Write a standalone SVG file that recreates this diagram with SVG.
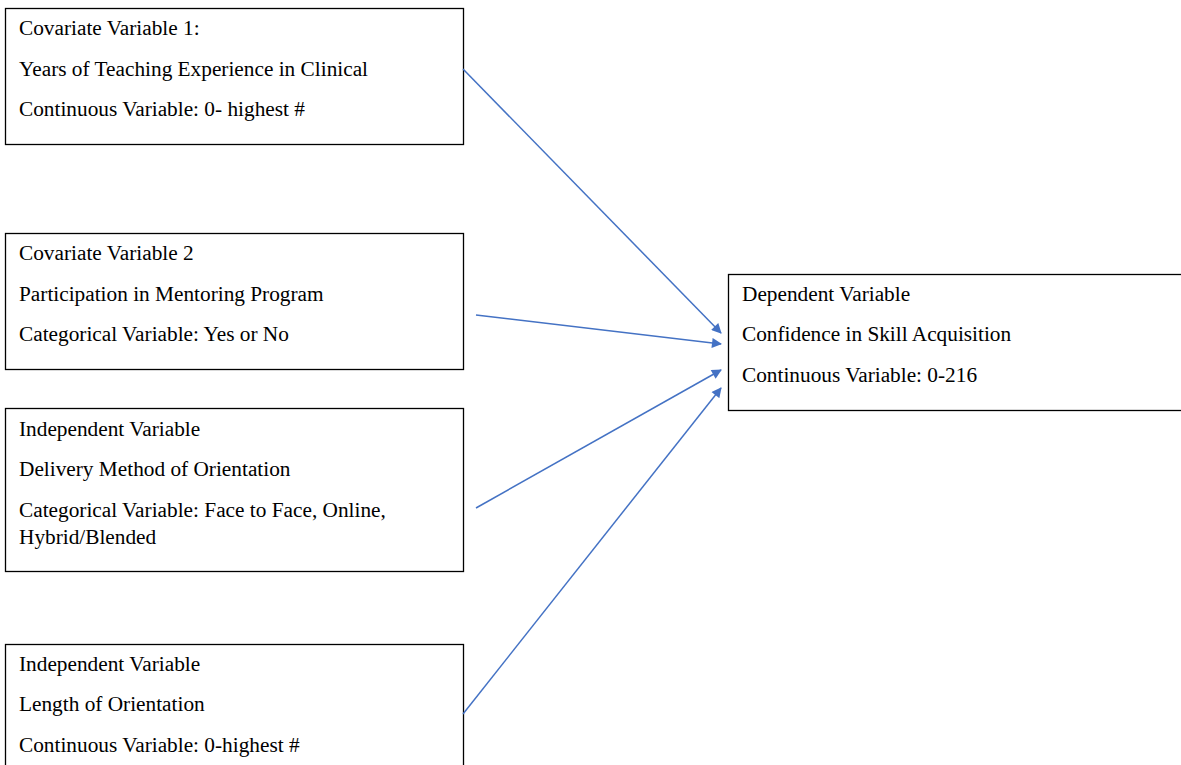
<svg xmlns="http://www.w3.org/2000/svg" width="1181" height="765" viewBox="0 0 1181 765">
<style>
.box{fill:#fff;stroke:#000;stroke-width:1.3}
.t{font-family:"Liberation Serif","Times New Roman",serif;font-size:21.3px;fill:#000}
.c{stroke:#4472C4;stroke-width:1.5;fill:none;marker-end:url(#ah)}
</style>
<defs>
<marker id="ah" viewBox="0 0 10 10" refX="9" refY="5" markerWidth="11" markerHeight="10" orient="auto" markerUnits="userSpaceOnUse"><path d="M0,0 L10,5 L0,10 z" fill="#4472C4"/></marker>
</defs>
<rect width="1181" height="765" fill="#fff"/>
<g id="cov1">
<rect class="box" x="5.5" y="8.5" width="458" height="136"/>
<text class="t" x="19" y="35">Covariate Variable 1:</text>
<text class="t" x="19" y="76">Years of Teaching Experience in Clinical</text>
<text class="t" x="19" y="116">Continuous Variable: 0- highest #</text>
</g>
<g id="cov2">
<rect class="box" x="5.5" y="233.5" width="458" height="136"/>
<text class="t" x="19" y="260">Covariate Variable 2</text>
<text class="t" x="19" y="301">Participation in Mentoring Program</text>
<text class="t" x="19" y="341">Categorical Variable: Yes or No</text>
</g>
<g id="ind1">
<rect class="box" x="5.5" y="408.5" width="458" height="163"/>
<text class="t" x="19" y="436">Independent Variable</text>
<text class="t" x="19" y="476">Delivery Method of Orientation</text>
<text class="t" x="19" y="517">Categorical Variable: Face to Face, Online,</text>
<text class="t" x="19" y="544">Hybrid/Blended</text>
</g>
<g id="ind2">
<rect class="box" x="5.5" y="644.5" width="458" height="140"/>
<text class="t" x="19" y="671">Independent Variable</text>
<text class="t" x="19" y="711">Length of Orientation</text>
<text class="t" x="19" y="752">Continuous Variable: 0-highest #</text>
</g>
<g id="dep">
<rect class="box" x="728.5" y="274.5" width="470" height="136"/>
<text class="t" x="742" y="301">Dependent Variable</text>
<text class="t" x="742" y="341">Confidence in Skill Acquisition</text>
<text class="t" x="742" y="382">Continuous Variable: 0-216</text>
</g>
<g id="connectors">
<line class="c" x1="463" y1="69" x2="721" y2="333"/>
<line class="c" x1="476" y1="315" x2="721" y2="344"/>
<line class="c" x1="476" y1="508" x2="721" y2="370"/>
<line class="c" x1="463" y1="714" x2="721" y2="388"/>
</g>
</svg>
